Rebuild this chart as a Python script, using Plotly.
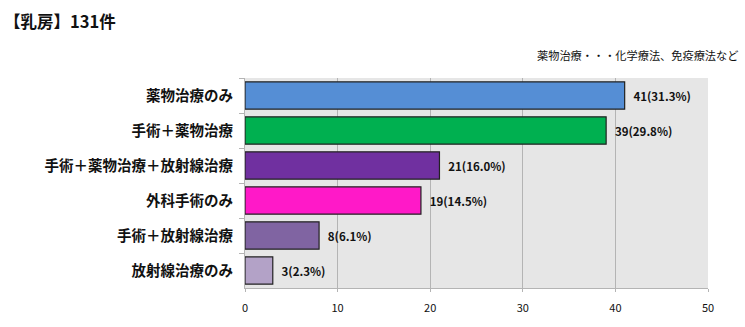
import plotly.graph_objects as go

categories = ["薬物治療のみ", "手術＋薬物治療", "手術＋薬物治療＋放射線治療", "外科手術のみ", "手術＋放射線治療", "放射線治療のみ"]
counts = [41, 39, 21, 19, 8, 3]
percents = [31.3, 29.8, 16.0, 14.5, 6.1, 2.3]
colors = ["#558ED5", "#00B050", "#7030A0", "#FF19C8", "#8064A2", "#B3A2C7"]
x_ticks = [0, 10, 20, 30, 40, 50]

labels = [f"\u2002{c}({p:.1f}%)" for c, p in zip(counts, percents)]
FONT = "Noto Sans CJK JP"

fig = go.Figure(go.Bar(
    y=categories, x=counts, orientation="h",
    marker=dict(color=colors, line=dict(color="#222222", width=1.2)),
    text=labels, textposition="outside", cliponaxis=False,
    textfont=dict(family=FONT, size=11.5, color="#111111", weight="bold"),
    width=0.78,
))

fig.update_layout(
    width=745, height=327,
    margin=dict(l=245, r=37, t=78, b=39, autoexpand=False),
    paper_bgcolor="white", plot_bgcolor="#E6E6E6",
    showlegend=False,
    font=dict(family=FONT, color="#111111"),
    annotations=[
        dict(text="【乳房】131件", xref="paper", yref="paper",
             x=-0.525, y=1.271, xanchor="left", yanchor="middle", showarrow=False,
             font=dict(family=FONT, size=16.5, color="#111111", weight="bold")),
        dict(text="薬物治療・・・化学療法、免疫療法など", xref="paper", yref="paper",
             x=1.069, y=1.11, xanchor="right", yanchor="middle", showarrow=False,
             font=dict(family=FONT, size=11.2, color="#111111")),
    ],
)
fig.update_xaxes(range=[0, 50], tickvals=x_ticks, showgrid=True, gridcolor="#B4B4B4", gridwidth=1,
                 zeroline=False, showline=True, linecolor="#B4B4B4",
                 ticks="outside", ticklen=3, tickcolor="#B4B4B4",
                 tickfont=dict(family=FONT, size=11, color="#111111"),
                 ticklabelstandoff=7, automargin=False)
fig.update_yaxes(autorange="reversed", showline=True, linecolor="#B4B4B4",
                 ticks="outside", tickson="boundaries", ticklen=5, tickcolor="#B4B4B4",
                 tickfont=dict(family=FONT, size=14.5, color="#111111", weight="bold"),
                 ticklabelstandoff=8, automargin=False)

fig.write_html("out.html", config={"displayModeBar": False},
               post_script="document.body.style.margin='0px';")
